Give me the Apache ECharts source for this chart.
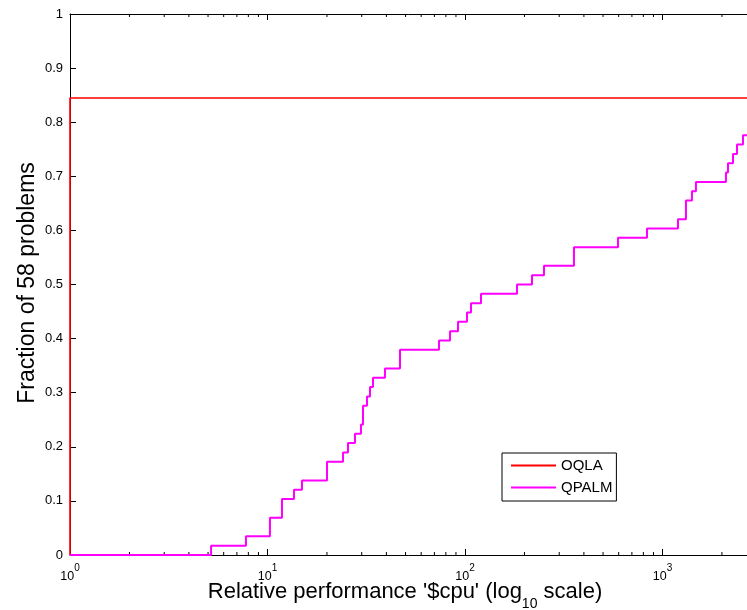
<!DOCTYPE html>
<html>
<head>
<meta charset="utf-8">
<script src="https://cdn.jsdelivr.net/npm/echarts@6/dist/echarts.min.js"></script>
<style>
  html, body { margin: 0; padding: 0; background: #fff; }
  #chart { width: 747px; height: 610px; }
</style>
</head>
<body>
<div id="chart"></div>
<script>
// Performance profile: fraction of problems solved within a factor of the best CPU time
const nProblems = 58;
const xMax = 3800;

// OQLA: every solved problem is solved at ratio 1
const oqlaRatio = [1, 1];
const oqlaSolved = [0, 49];

// QPALM: cumulative number of problems solved at each performance ratio
const qpalmRatio = [1, 5.18, 7.78, 10.29, 11.84, 13.62, 14.95, 20.01, 24.12, 25.56, 27.73,
  29.74, 30.45, 31.90, 33.04, 34.21, 39.34, 46.87, 73.86, 83.99, 92.17, 102.35, 107.25,
  120.5, 183.4, 218.4, 251.2, 356.3, 595.2, 834.7, 1198, 1315, 1410, 1477, 2096, 2146,
  2275, 2384, 2556];
const qpalmSolved = [0, 1, 2, 4, 6, 7, 8, 10, 11, 12, 13,
  14, 16, 17, 18, 19, 20, 22, 23, 24, 25, 26, 27,
  28, 29, 30, 31, 33, 34, 35, 36, 38, 39, 40, 41, 42,
  43, 44, 45];

// Minor tick positions of the log axis
const minorTickValues = [2, 3, 4, 5, 6, 7, 8, 9, 20, 30, 40, 50, 60, 70, 80, 90,
  200, 300, 400, 500, 600, 700, 800, 900, 2000, 3000];

const FONT = 'Liberation Sans, Arial, Helvetica, sans-serif';

function profile(ratio, solved) {
  const pts = ratio.map((r, i) => [r, solved[i] / nProblems]);
  pts.push([xMax, solved[solved.length - 1] / nProblems]);
  return pts;
}

const chart = echarts.init(document.getElementById('chart'), null, { renderer: 'canvas' });

const xAxisBase = {
  type: 'log',
  logBase: 10,
  min: 1,
  max: xMax,
  splitLine: { show: false },
  axisLine: { show: true, lineStyle: { color: '#000', width: 1 } },
  axisTick: { show: true, inside: true, length: 6, lineStyle: { color: '#000', width: 1 } },
  minorTick: { show: false }
};

const option = {
  animation: false,
  backgroundColor: '#fff',
  grid: { left: 70, right: -30, top: 14, bottom: 55, containLabel: false, outerBoundsMode: 'none' },
  xAxis: [
    Object.assign({}, xAxisBase, {
      position: 'bottom',
      axisLabel: {
        show: true,
        margin: 8,
        showMaxLabel: false,
        formatter: v => '{b|10}{s|' + Math.round(Math.log10(v)) + '}',
        rich: {
          b: { fontSize: 12.5, fontFamily: FONT, color: '#000', lineHeight: 20, verticalAlign: 'bottom' },
          s: { fontSize: 10, fontFamily: FONT, color: '#000', lineHeight: 11, verticalAlign: 'top' }
        }
      }
    }),
    Object.assign({}, xAxisBase, {
      position: 'top',
      axisLabel: { show: false }
    })
  ],
  yAxis: {
    type: 'value',
    min: 0,
    max: 1,
    interval: 0.1,
    splitLine: { show: false },
    axisLine: { show: true, lineStyle: { color: '#000', width: 1 } },
    axisTick: { show: true, inside: true, length: 6, lineStyle: { color: '#000', width: 1 } },
    axisLabel: { color: '#000', fontSize: 13, fontFamily: FONT, margin: 7 }
  },
  legend: {
    data: ['OQLA', 'QPALM'],
    orient: 'vertical',
    left: 502,
    top: 453,
    padding: [5, 4, 6, 9],
    icon: 'rect',
    itemWidth: 45,
    itemHeight: 2,
    itemGap: 7,
    backgroundColor: '#fff',
    borderColor: '#000',
    borderWidth: 1,
    borderRadius: 0,
    textStyle: { color: '#000', fontSize: 15, fontFamily: FONT, lineHeight: 15, padding: [0, 0, 0, 0] }
  },
  graphic: [
    {
      type: 'text',
      x: 405,
      y: 581,
      style: {
        text: "{n|Relative performance '$cpu' (log}{sub|10}{n| scale)}",
        align: 'center',
        verticalAlign: 'top',
        rich: {
          n: { fontSize: 22, fontFamily: FONT, fill: '#000', lineHeight: 24, verticalAlign: 'top' },
          sub: { fontSize: 14, fontFamily: FONT, fill: '#000', lineHeight: 30, verticalAlign: 'bottom' }
        }
      }
    },
    {
      type: 'text',
      x: 28,
      y: 283,
      rotation: Math.PI / 2,
      style: {
        text: 'Fraction of 58 problems',
        fontSize: 23,
        fontFamily: FONT,
        fill: '#000',
        align: 'center',
        verticalAlign: 'middle'
      }
    }
  ],
  series: [
    {
      name: 'OQLA',
      type: 'line',
      step: 'end',
      symbol: 'none',
      clip: false,
      z: 3,
      lineStyle: { color: '#ff0000', width: 1.6 },
      itemStyle: { color: '#ff0000' },
      data: profile(oqlaRatio, oqlaSolved)
    },
    {
      name: 'QPALM',
      type: 'line',
      step: 'end',
      symbol: 'none',
      clip: false,
      z: 4,
      lineStyle: { color: '#ff00ff', width: 2 },
      itemStyle: { color: '#ff00ff' },
      data: profile(qpalmRatio, qpalmSolved)
    },
    {
      type: 'custom',
      silent: true,
      z: 2,
      xAxisIndex: 0,
      yAxisIndex: 0,
      encode: { x: 0 },
      data: minorTickValues.map(v => [v]),
      renderItem: function (params, api) {
        const v = api.value(0);
        const b = api.coord([v, 0]);
        const t = api.coord([v, 1]);
        return {
          type: 'group',
          children: [
            { type: 'line', shape: { x1: b[0], y1: b[1], x2: b[0], y2: b[1] - 3 }, style: { stroke: '#000', lineWidth: 1 } },
            { type: 'line', shape: { x1: t[0], y1: t[1], x2: t[0], y2: t[1] + 3 }, style: { stroke: '#000', lineWidth: 1 } }
          ]
        };
      }
    }
  ]
};

chart.setOption(option);
</script>
</body>
</html>
